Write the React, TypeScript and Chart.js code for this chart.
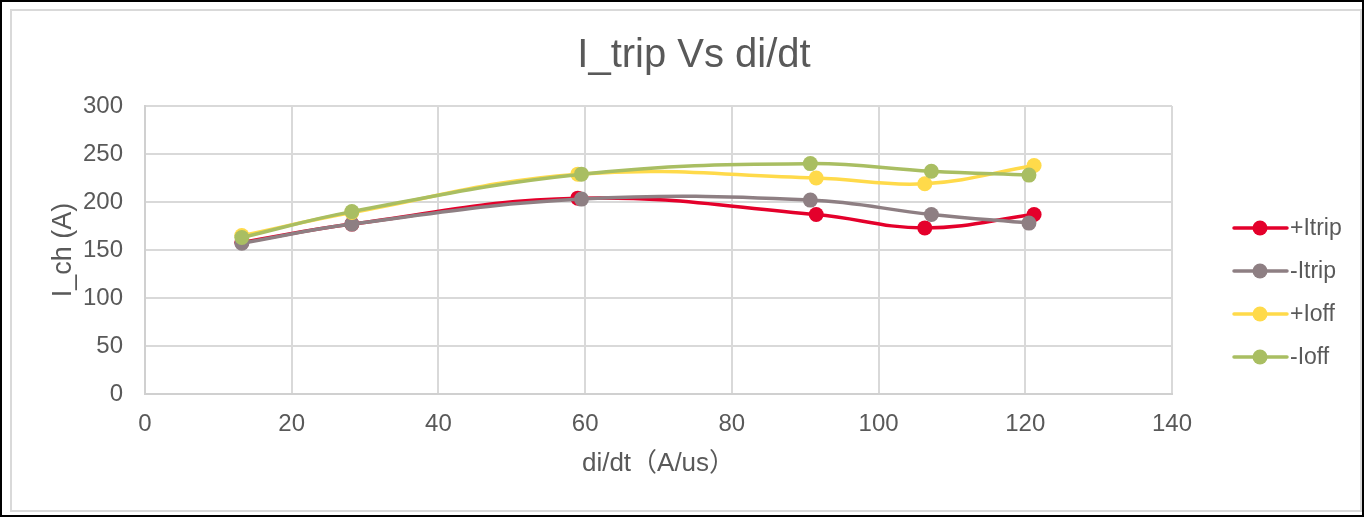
import React, { useEffect, useRef } from "react";
import { Chart, registerables } from "chart.js";

Chart.register(...registerables);

const chartTitle = "I_trip Vs di/dt";
const xAxisTitle = "di/dt（A/us）";
const yAxisTitle = "I_ch (A)";

const seriesNames = ["+Itrip", "-Itrip", "+Ioff", "-Ioff"];
const seriesColors = ["#E4002B", "#8E7F83", "#FFDA4A", "#A9BE62"];

const xPlusItrip = [13.2, 28.2, 59.0, 91.5, 106.3, 121.2];
const yPlusItrip = [158, 177, 204, 187, 173, 187];
const xMinusItrip = [13.2, 28.2, 59.5, 90.7, 107.2, 120.5];
const yMinusItrip = [157, 177, 203, 202, 187, 178];
const xPlusIoff = [13.2, 28.2, 59.0, 91.5, 106.3, 121.2];
const yPlusIoff = [165, 189, 229, 225, 219, 238];
const xMinusIoff = [13.2, 28.2, 59.5, 90.7, 107.2, 120.5];
const yMinusIoff = [163, 190, 229, 240, 232, 228];

const xTicks = [0, 20, 40, 60, 80, 100, 120, 140];
const yTicks = [0, 50, 100, 150, 200, 250, 300];

const FONT = "'Liberation Sans', Arial, 'Noto Sans CJK SC', sans-serif";
const TEXT = "#595959";

function pts(xs: number[], ys: number[]) {
  return xs.map((x, i) => ({ x, y: ys[i] }));
}

export default function App() {
  const ref = useRef<HTMLCanvasElement | null>(null);

  useEffect(() => {
    const canvas = ref.current;
    if (!canvas) return;
    const allX = [xPlusItrip, xMinusItrip, xPlusIoff, xMinusIoff];
    const allY = [yPlusItrip, yMinusItrip, yPlusIoff, yMinusIoff];

    const decor = {
      id: "decor",
      afterDraw(chart: any) {
        const ctx = chart.ctx;
        ctx.save();
        ctx.fillStyle = TEXT;
        ctx.font = `40px ${FONT}`;
        ctx.textAlign = "center";
        ctx.textBaseline = "alphabetic";
        ctx.fillText(chartTitle, 694, 67);
        // legend
        const ys = [228, 271, 314, 357];
        ctx.font = `23px ${FONT}`;
        ctx.textAlign = "left";
        ctx.textBaseline = "middle";
        seriesNames.forEach((name, i) => {
          const y = ys[i];
          ctx.strokeStyle = seriesColors[i];
          ctx.lineWidth = 3.5;
          ctx.lineCap = "round";
          ctx.beginPath();
          ctx.moveTo(1234, y);
          ctx.lineTo(1287, y);
          ctx.stroke();
          ctx.fillStyle = seriesColors[i];
          ctx.beginPath();
          ctx.arc(1260, y, 7.5, 0, Math.PI * 2);
          ctx.fill();
          ctx.fillStyle = TEXT;
          ctx.fillText(name, 1290, y + 1);
        });
        ctx.restore();
      },
    };

    const chart = new Chart(canvas, {
      type: "line",
      data: {
        datasets: seriesNames.map((name, i) => ({
          label: name,
          data: pts(allX[i], allY[i]),
          borderColor: seriesColors[i],
          backgroundColor: seriesColors[i],
          borderWidth: 3.5,
          pointRadius: 7.5,
          pointHoverRadius: 7.5,
          pointBorderWidth: 0,
          tension: 0.4,
          fill: false,
          order: 4 - i,
        })),
      },
      options: {
        animation: false,
        responsive: false,
        devicePixelRatio: 1,
        layout: { padding: { left: 0, top: 106, right: 193, bottom: 0 } },
        plugins: {
          legend: { display: false },
          title: { display: false },
          tooltip: { enabled: false },
        },
        scales: {
          x: {
            type: "linear",
            min: 0,
            max: 140,
            afterBuildTicks: (s: any) => {
              s.ticks = xTicks.map((v) => ({ value: v }));
            },
            afterFit: (s: any) => {
              s.height = 124;
            },
            grid: { color: "#D9D9D9", lineWidth: 2, drawTicks: false },
            border: { color: "#D0D0D0", width: 2 },
            ticks: { color: TEXT, font: { family: FONT, size: 24 }, padding: 16, maxRotation: 0 },
            title: {
              display: true,
              text: xAxisTitle,
              color: TEXT,
              font: { family: FONT, size: 26 },
              padding: { top: 0, bottom: 39 },
            },
          },
          y: {
            type: "linear",
            min: 0,
            max: 300,
            afterBuildTicks: (s: any) => {
              s.ticks = yTicks.map((v) => ({ value: v }));
            },
            afterFit: (s: any) => {
              s.width = 145;
            },
            grid: { color: "#D9D9D9", lineWidth: 2, drawTicks: false },
            border: { color: "#D0D0D0", width: 2 },
            ticks: { color: TEXT, font: { family: FONT, size: 24 }, padding: 22 },
            title: {
              display: true,
              text: yAxisTitle,
              color: TEXT,
              font: { family: FONT, size: 27 },
              padding: { top: 47, bottom: 0 },
            },
          },
        },
      },
      plugins: [decor],
    });
    return () => chart.destroy();
  }, []);

  return (
    <div style={{ position: "absolute", left: 0, top: 0, width: 1365, height: 518, background: "#fff" }}>
      <canvas ref={ref} width={1365} height={518} style={{ position: "absolute", left: 0, top: 0, width: 1365, height: 518 }} />
      <div style={{ position: "absolute", left: 10, top: 9, width: 1352, height: 503, boxSizing: "border-box", border: "2px solid #D9D9D9" }} />
      <div style={{ position: "absolute", left: 0, top: 0, width: 1364, height: 517, boxSizing: "border-box", border: "2px solid #000" }} />
    </div>
  );
}
